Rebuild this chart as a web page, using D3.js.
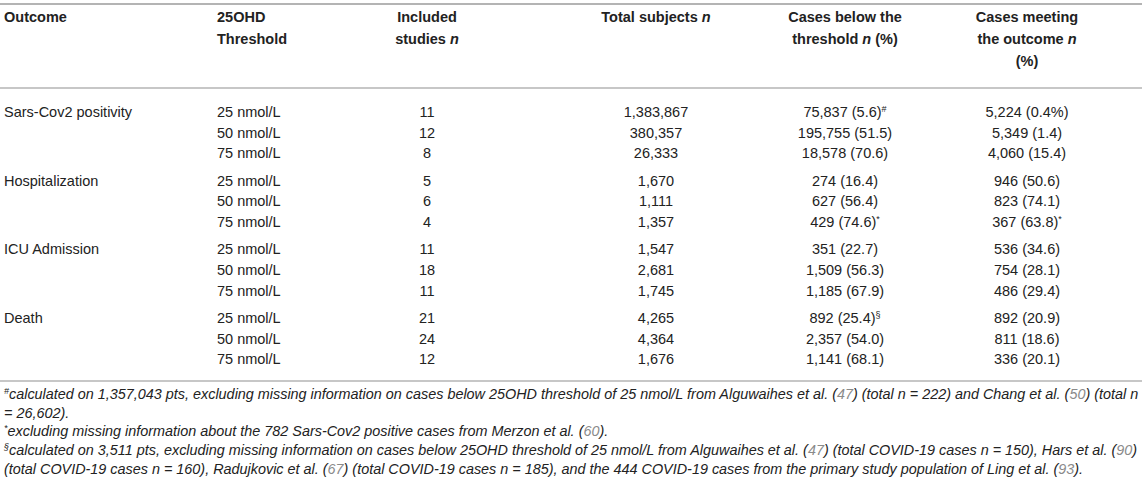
<!DOCTYPE html>
<html lang="en">
<head>
<meta charset="utf-8">
<title>25OHD thresholds and COVID-19 outcomes</title>
<script src="https://cdn.jsdelivr.net/npm/d3@7"></script>
<style>
  body { margin: 0; background: #fff; }
  svg text { font-family: "Liberation Sans", Arial, Helvetica, sans-serif; fill: #222; }
  .head text { font-weight: bold; font-size: 14.5px; }
  .cell { font-size: 14.5px; }
  .note { font-size: 14.4px; font-style: italic; }
  .ref { fill: #8a8a8a; }
  .rule { stroke: #b4b4b4; }
</style>
</head>
<body>
<script>
// table data
var outcomes   = ["Sars-Cov2 positivity", "Hospitalization", "ICU Admission", "Death"];
var thresholds = ["25 nmol/L", "50 nmol/L", "75 nmol/L"];
var studies    = [[11, 12, 8], [5, 6, 4], [11, 18, 11], [21, 24, 12]];
var totals     = [["1,383,867", "380,357", "26,333"], ["1,670", "1,111", "1,357"],
                  ["1,547", "2,681", "1,745"], ["4,265", "4,364", "1,676"]];
var below      = [["75,837 (5.6)", "195,755 (51.5)", "18,578 (70.6)"],
                  ["274 (16.4)", "627 (56.4)", "429 (74.6)"],
                  ["351 (22.7)", "1,509 (56.3)", "1,185 (67.9)"],
                  ["892 (25.4)", "2,357 (54.0)", "1,141 (68.1)"]];
var belowMark  = [["#", "", ""], ["", "", "*"], ["", "", ""], ["\u00a7", "", ""]];
var meeting    = [["5,224 (0.4%)", "5,349 (1.4)", "4,060 (15.4)"],
                  ["946 (50.6)", "823 (74.1)", "367 (63.8)"],
                  ["536 (34.6)", "754 (28.1)", "486 (29.4)"],
                  ["892 (20.9)", "811 (18.6)", "336 (20.1)"]];
var meetingMark = [["", "", ""], ["", "", "*"], ["", "", ""], ["", "", ""]];

var headers = [
  {key: "outcome",   lines: [["Outcome"]]},
  {key: "threshold", lines: [["25OHD"], ["Threshold"]]},
  {key: "studies",   lines: [["Included"], ["studies ", "n"]]},
  {key: "total",     lines: [["Total subjects ", "n"]]},
  {key: "below",     lines: [["Cases below the"], ["threshold ", "n", " (%)"]]},
  {key: "meeting",   lines: [["Cases meeting"], ["the outcome ", "n"], ["(%)"]]}
];

var notes = [
  ["#", "calculated on 1,357,043 pts, excluding missing information on cases below 25OHD threshold of 25 nmol/L from Alguwaihes et al. (47) (total n = 222) and Chang et al. (50) (total n"],
  ["", "= 26,602)."],
  ["*", "excluding missing information about the 782 Sars-Cov2 positive cases from Merzon et al. (60)."],
  ["\u00a7", "calculated on 3,511 pts, excluding missing information on cases below 25OHD threshold of 25 nmol/L from Alguwaihes et al. (47) (total COVID-19 cases n = 150), Hars et al. (90)"],
  ["", "(total COVID-19 cases n = 160), Radujkovic et al. (67) (total COVID-19 cases n = 185), and the 444 COVID-19 cases from the primary study population of Ling et al. (93)."]
];

var w = 1146, h = 493;

var svg = d3.select("body").append("svg")
    .attr("width", w)
    .attr("height", h);

// column positions and alignment
var colKeys = headers.map(function(d){ return d.key; });
var colX = d3.scaleOrdinal().domain(colKeys).range([4, 217, 427, 656, 845, 1027]);
var colAnchor = d3.scaleOrdinal().domain(colKeys)
    .range(["start", "start", "middle", "middle", "middle", "middle"]);

// rows: one group per outcome, three thresholds inside (y = text middle)
var groupY = d3.scalePoint().domain(outcomes).range([111.7, 317.7]);
var rowY = d3.scalePoint().domain(thresholds).range([0, 41.4]);
var headY = d3.scaleLinear().domain([0, 1]).range([16.5, 38.5]);
var noteY = d3.scaleLinear().domain([0, 1]).range([394, 412.6]);
var mid = 5.2; // middle of capitals to baseline

// rules
svg.selectAll("line.rule")
    .data([4, 88, 381])
    .enter().append("line")
    .attr("class", "rule")
    .attr("x1", 0).attr("x2", 1142)
    .attr("y1", function(d){ return d; })
    .attr("y2", function(d){ return d; })
    .attr("stroke-width", function(d, i){ return i == 0 ? 2 : 1.6; });

// header
var head = svg.append("g").attr("class", "head");
headers.forEach(function(col){
    col.lines.forEach(function(parts, li){
        var t = head.append("text")
            .attr("x", colX(col.key))
            .attr("y", headY(li) + mid)
            .attr("text-anchor", colAnchor(col.key));
        parts.forEach(function(p){
            t.append("tspan").text(p)
                .attr("font-style", p == "n" ? "italic" : null);
        });
    });
});

// body cells
var rows = [];
outcomes.forEach(function(o, g){
    thresholds.forEach(function(th, r){
        rows.push({g: g, r: r, outcome: o, threshold: th});
    });
});

function addCell(sel, key, text, mark){
    var t = sel.append("text")
        .attr("class", "cell")
        .attr("x", colX(key))
        .attr("y", mid)
        .attr("text-anchor", colAnchor(key))
        .text(text);
    if (mark) {
        t.append("tspan")
            .attr("font-size", "9px")
            .attr("dy", "-0.6em")
            .text(mark);
    }
}

var rowG = svg.selectAll("g.row")
    .data(rows)
    .enter().append("g")
    .attr("class", "row")
    .attr("transform", function(d){
        return "translate(0," + (groupY(d.outcome) + rowY(d.threshold)) + ")";
    });

rowG.each(function(d){
    var sel = d3.select(this);
    if (d.r == 0) addCell(sel, "outcome", d.outcome);
    addCell(sel, "threshold", d.threshold);
    addCell(sel, "studies", studies[d.g][d.r]);
    addCell(sel, "total", totals[d.g][d.r]);
    addCell(sel, "below", below[d.g][d.r], belowMark[d.g][d.r]);
    addCell(sel, "meeting", meeting[d.g][d.r], meetingMark[d.g][d.r]);
});

// footnotes, reference numbers in grey
svg.selectAll("text.note")
    .data(notes)
    .enter().append("text")
    .attr("class", "note")
    .attr("x", 4)
    .attr("y", function(d, i){ return noteY(i) + mid; })
    .each(function(d){
        var t = d3.select(this);
        if (d[0]) {
            t.append("tspan").attr("font-size", "9px").attr("dy", -5).text(d[0]);
        }
        d[1].split(/\((\d+)\)/).forEach(function(p, i){
            if (i % 2 == 1) {
                t.append("tspan").text("(");
                t.append("tspan").attr("class", "ref").text(p);
                t.append("tspan").text(")");
            } else {
                var s = t.append("tspan").text(p);
                if (i == 0 && d[0]) s.attr("dy", 5);
            }
        });
    });
</script>
</body>
</html>
